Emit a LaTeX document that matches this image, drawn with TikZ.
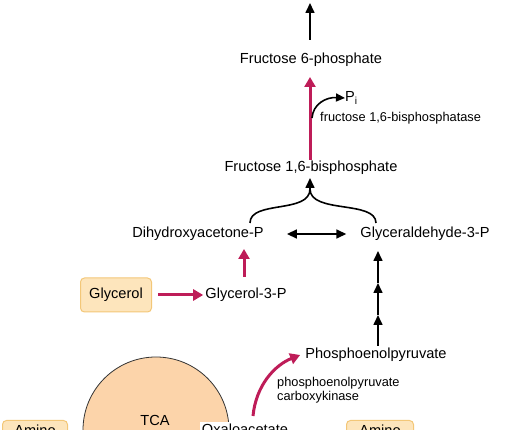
\documentclass[tikz,border=0pt]{standalone}
\usepackage{fontspec}
\setmainfont{Liberation Sans}
\usetikzlibrary{arrows.meta}
\definecolor{mag}{RGB}{190,28,88}
\definecolor{peach}{RGB}{252,212,170}
\definecolor{boxfill}{RGB}{253,229,188}
\definecolor{boxdraw}{RGB}{243,199,120}
\tikzset{
  lbl/.style={inner sep=1pt, font=\fontsize{14.6}{16}\selectfont},
  enz/.style={inner sep=0pt, font=\fontsize{12.8}{14.5}\selectfont, align=left},
  sbox/.style={draw=boxdraw, fill=boxfill, line width=1pt, rounded corners=4pt,
    font=\fontsize{14.6}{16}\selectfont},
  blk/.style={line width=1.6pt, -{Triangle[length=10pt,width=9pt]}},
  blk2/.style={line width=1.6pt, {Triangle[length=10pt,width=9pt]}-{Triangle[length=10pt,width=9pt]}},
  magarr/.style={draw=mag, line width=3pt, -{Triangle[length=10pt,width=11pt]}},
}
\begin{document}
\begin{tikzpicture}[x=1pt,y=-1pt]
\useasboundingbox (0,0) rectangle (520,430);
% TCA circle
\node[circle, draw=black!80, fill=peach, line width=0.8pt, minimum size=146pt, inner sep=0pt] (tca) at (156,430) {};
\node[lbl] (tcat) at (155,420) {TCA};
\node[lbl, fill=white, inner sep=2pt] (oaa) at (245,429) {Oxaloacetate};
% Amino boxes
\node[sbox, anchor=north west, minimum width=65pt, align=center, inner sep=4pt] (aminoL) at (2,420) {Amino\\acids};
\node[sbox, anchor=north west, minimum width=67pt, align=center, inner sep=4pt] (aminoR) at (346,420) {Amino\\acids};
% main labels
\node[lbl] (f6p) at (311,60) {Fructose 6-phosphate};
\node[lbl] (f16bp) at (311,168) {Fructose 1,6-bisphosphate};
\node[lbl] (dhap) at (198,234) {Dihydroxyacetone-P};
\node[lbl] (g3p) at (425,234) {Glyceraldehyde-3-P};
\node[sbox, minimum width=71pt, minimum height=34pt] (glycerol) at (116,295) {Glycerol};
\node[lbl] (gly3p) at (246,295) {Glycerol-3-P};
\node[lbl] (pep) at (376,355) {Phosphoenolpyruvate};
\node[lbl, anchor=west, inner sep=0pt] (pi) at (345,98) {P\textsubscript{i}};
\node[enz, anchor=west] (fbpase) at (320,118) {fructose 1,6-bisphosphatase};
\node[enz, anchor=north west] (pepck) at (277,377) {phosphoenolpyruvate\\carboxykinase};
% coordinates
\coordinate (top) at (310,3);
\coordinate (pistart) at (312,118);
\coordinate (ba) at (250,223);
\coordinate (bb) at (376,223);
\coordinate (bm) at (310,189);
\coordinate (btip) at (310,178);
\coordinate (c1) at (378,315);
\coordinate (c2) at (378,283);
\coordinate (c0) at (378,346);
\coordinate (oaastart) at (253,416);
% connectors
\draw[blk] (f6p.north -| top) ++(0,-12) -- (top);
\draw[magarr] (310,160) -- (310,77);
\draw[line width=1.6pt, -{Triangle[length=9pt,width=8pt]}] (pistart) .. controls (313,104) and (326,97) .. (pi.west);
\draw[line width=1.6pt] (ba) .. controls (250,200) and (310,214) .. (bm);
\draw[line width=1.6pt] (bb) .. controls (376,200) and (310,214) .. (bm);
\draw[blk] (bm) -- (btip);
\draw[blk2] ([xshift=22pt]dhap.east) -- ([xshift=-13pt]g3p.west);
\draw[magarr] ([xshift=6pt]glycerol.east) -- ([xshift=-1pt]gly3p.west);
\draw[magarr] (244,277) -- (244,249);
\draw[blk] (c0) -- (c1);
\draw[blk] (c1) -- (c2);
\draw[blk] (c2) -- (378,251);
\draw[magarr] (oaastart) .. controls (256,385) and (275,365) .. ([xshift=-4pt]pep.west);
\end{tikzpicture}
\end{document}
